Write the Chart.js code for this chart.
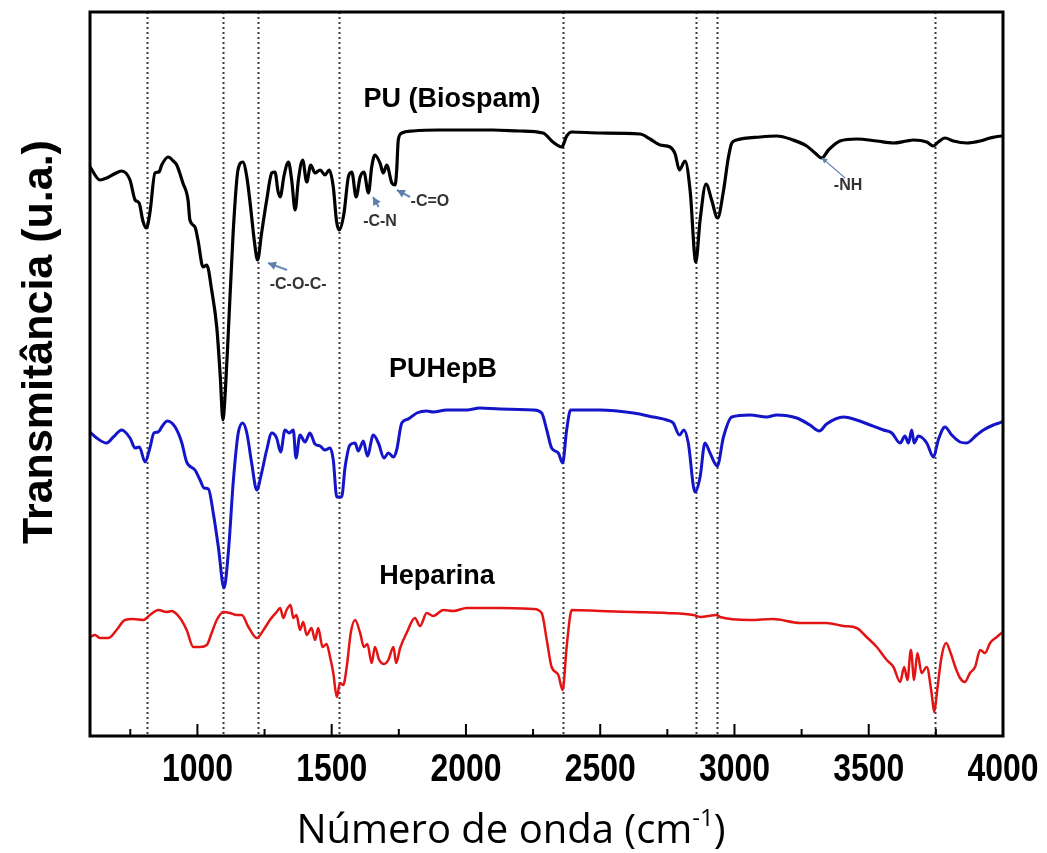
<!DOCTYPE html>
<html>
<head>
<meta charset="utf-8">
<script src="https://cdn.jsdelivr.net/npm/chart.js@4.4.1/dist/chart.umd.min.js"></script>
<style>
  body { margin: 0; background: #fff; }
  #wrap { width: 1047px; height: 853px; }
</style>
</head>
<body>
<div id="wrap"><canvas id="ftirChart" width="1047" height="853"></canvas></div>
<script>
// Spectres FTIR : nombre d'onde (cm-1) et transmitance (u.a., décalée)
const puX = [600,637,662,690,718,749,768,783,797,810,823,842,857,867,891,910,923,946,965,972,991,1002,1021,1035,1053,1072,1085,1095,1105,1115,1133,1151,1169,1184,1198,1212,1224,1239,1258,1277,1289,1300,1308,1323,1339,1351,1364,1376,1392,1407,1422,1438,1457,1475,1491,1506,1518,1528,1546,1562,1575,1591,1606,1620,1637,1649,1661,1680,1692,1705,1724,1736,1742,1748,1761,1803,1900,2000,2100,2200,2287,2324,2357,2375,2394,2500,2648,2686,2723,2760,2779,2795,2816,2835,2856,2872,2894,2915,2937,2959,2977,2990,3008,3095,3157,3218,3269,3300,3325,3350,3393,3455,3530,3592,3641,3666,3716,3741,3759,3784,3815,3865,3915,3952,3995,4000];
const puY = [56.9,55.6,55.8,56.2,56.5,55.6,53.6,53.3,51.5,50.8,52.3,56.3,56.4,57.1,57.9,57.5,57.1,55.3,53.6,51.6,50.9,49.6,46.9,47.1,44.6,40.9,36.0,31.6,35.0,40.3,50.3,56.6,57.4,55.9,52.9,49.5,47.6,50.3,53.6,56.3,56.4,54.5,53.9,56.1,57.4,55.6,52.6,55.6,57.6,55.4,57.1,56.3,56.6,56.1,56.6,54.9,51.5,50.6,52.3,55.9,56.4,53.9,55.9,56.4,54.3,56.9,58.1,57.3,56.3,57.1,55.3,55.1,56.5,59.6,60.3,60.5,60.6,60.6,60.6,60.5,60.3,59.4,58.9,60.0,60.4,60.3,60.2,59.7,59.1,58.9,58.2,56.6,57.5,54.5,47.4,51.6,55.2,53.6,51.8,54.5,57.8,59.3,59.6,59.9,60.0,59.6,59.0,58.3,57.8,58.6,59.5,59.7,59.5,59.3,59.5,59.6,59.4,59.0,59.4,59.8,59.5,59.3,59.5,59.8,60.0,60.0];

const hepbX = [600,625,662,687,718,749,768,784,805,823,838,854,867,888,917,941,960,991,1010,1025,1041,1059,1078,1099,1115,1134,1152,1169,1184,1202,1221,1239,1258,1277,1295,1310,1326,1342,1357,1367,1382,1401,1419,1438,1457,1475,1494,1506,1519,1537,1550,1568,1587,1599,1618,1633,1655,1674,1695,1711,1730,1742,1761,1785,1817,1854,1878,1928,2003,2052,2127,2251,2282,2301,2319,2344,2360,2375,2390,2499,2624,2698,2748,2772,2795,2812,2828,2853,2872,2890,2909,2936,2959,2990,3058,3120,3157,3232,3281,3316,3343,3406,3455,3505,3555,3586,3617,3635,3648,3660,3669,3685,3716,3741,3759,3784,3809,3840,3865,3902,3927,3964,3995,4000];
const hepbY = [30.4,29.8,29.3,29.9,30.6,29.8,28.8,28.9,27.4,28.8,30.3,30.4,30.9,31.5,30.9,29.4,27.4,26.6,25.6,24.8,24.7,22.3,18.9,14.8,18.3,25.6,30.3,31.3,30.3,27.3,24.6,26.3,28.6,30.3,29.8,28.4,30.6,30.3,30.6,27.8,30.1,29.4,30.3,29.2,29.0,28.6,28.8,27.6,23.9,23.9,26.9,29.1,29.3,28.5,29.5,28.0,30.1,29.3,27.8,28.3,27.9,28.6,31.3,31.7,32.3,32.5,32.4,32.6,32.6,32.8,32.7,32.6,32.3,30.6,28.8,28.3,27.3,30.6,32.6,32.6,32.3,31.9,31.6,31.3,30.1,30.6,29.3,24.4,25.9,29.3,28.3,27.0,29.9,31.9,32.1,31.9,32.1,31.8,31.1,30.5,31.2,31.9,31.6,31.1,30.6,30.3,29.3,30.0,29.3,30.6,29.3,30.0,29.3,27.9,29.6,30.9,30.1,29.4,29.3,30.1,30.6,31.1,31.4,31.5];

const hepX = [600,619,637,668,699,730,761,799,823,854,886,904,935,960,985,1010,1035,1053,1072,1097,1121,1146,1165,1190,1221,1246,1270,1295,1308,1320,1332,1347,1357,1369,1382,1394,1407,1425,1438,1450,1466,1481,1494,1506,1519,1531,1543,1556,1571,1587,1606,1620,1633,1649,1661,1677,1695,1711,1730,1740,1755,1779,1810,1829,1854,1878,1916,1953,2003,2127,2251,2282,2301,2319,2344,2360,2375,2388,2394,2499,2624,2748,2847,2872,2934,2946,3058,3145,3244,3343,3406,3455,3492,3530,3567,3592,3617,3632,3644,3657,3669,3681,3697,3716,3734,3744,3755,3771,3788,3805,3821,3840,3858,3877,3896,3915,3933,3952,3977,3995,4000];
const hepY = [9.9,10.1,9.8,9.8,10.6,11.6,11.7,11.6,12.1,12.6,12.4,12.5,11.8,10.6,8.9,8.9,9.1,10.3,11.6,12.4,12.3,12.1,12.1,10.9,9.8,10.6,11.6,12.4,12.8,11.8,12.6,13.1,11.8,12.1,10.6,11.4,10.1,10.8,9.6,10.8,8.9,9.2,7.9,6.3,3.9,5.3,5.1,6.9,10.3,11.6,10.3,8.9,9.2,7.3,8.9,7.6,7.2,7.6,8.9,7.3,8.8,10.3,11.8,11.0,12.3,12.0,12.6,12.5,12.8,12.8,12.7,12.3,9.6,6.9,6.1,4.6,8.9,12.0,12.6,12.5,12.4,12.3,12.1,11.9,12.1,11.9,11.6,11.7,11.3,11.3,11.0,10.8,9.9,8.9,7.6,6.9,5.4,6.9,5.6,8.6,5.6,8.3,6.3,6.9,4.3,2.4,4.6,7.9,9.3,8.3,7.0,5.8,5.4,6.3,6.9,8.6,8.3,9.3,9.9,10.3,10.4];

// lignes pointillées des bandes caractéristiques
const bandLines = [812, 1097, 1224, 1527, 2360, 2855, 2935, 3747];
const majorTicks = [1000, 1500, 2000, 2500, 3000, 3500, 4000];
const minorTicks = [750, 1250, 1750, 2250, 2750, 3250, 3750];

// étiquettes des courbes et annotations (en coordonnées des données)
const seriesLabels = [
    { text: 'PU (Biospam)', x: 1948, y: 63.6 },
    { text: 'PUHepB', x: 1915, y: 36.6 },
    { text: 'Heparina', x: 1892, y: 15.9 },
];
const groupLabels = [
    { text: '-C-O-C-', x: 1375, y: 45.1, from: [1334, 46.6], to: [1263, 47.3] },
    { text: '-C-N', x: 1680, y: 51.4, from: [1675, 52.9], to: [1654, 53.9] },
    { text: '-C=O', x: 1866, y: 53.4, from: [1792, 53.9], to: [1743, 54.6] },
    { text: '-NH', x: 3423, y: 55.0, from: [3412, 55.8], to: [3326, 57.8], noHead: true },
];

const toPoints = (xs, ys) => xs.map((x, i) => ({ x: x, y: ys[i] }));

const ftirDecor = {
    id: 'ftirDecor',
    beforeDatasetsDraw(chart) {
        const { ctx, chartArea: a, scales: { x } } = chart;
        ctx.save();
        ctx.strokeStyle = '#3a3a3a';
        ctx.lineWidth = 2;
        ctx.setLineDash([2, 3]);
        bandLines.forEach(v => {
            const px = Math.round(x.getPixelForValue(v)) + 0.5;
            ctx.beginPath();
            ctx.moveTo(px, a.top);
            ctx.lineTo(px, a.bottom);
            ctx.stroke();
        });
        ctx.restore();
    },
    afterDatasetsDraw(chart) {
        const { ctx, chartArea: a, scales: { x, y } } = chart;
        ctx.save();

        // cadre
        ctx.strokeStyle = '#000';
        ctx.lineWidth = 3;
        ctx.strokeRect(a.left, a.top, a.right - a.left, a.bottom - a.top);

        // graduations vers l'intérieur
        ctx.lineWidth = 2;
        majorTicks.forEach(v => {
            const px = x.getPixelForValue(v);
            ctx.beginPath(); ctx.moveTo(px, a.bottom); ctx.lineTo(px, a.bottom - 12); ctx.stroke();
        });
        minorTicks.forEach(v => {
            const px = x.getPixelForValue(v);
            ctx.beginPath(); ctx.moveTo(px, a.bottom); ctx.lineTo(px, a.bottom - 7); ctx.stroke();
        });

        // étiquettes de l'axe x (police resserrée)
        ctx.fillStyle = '#000';
        ctx.font = 'bold 38px "Liberation Sans", Arial, sans-serif';
        ctx.textAlign = 'center';
        ctx.textBaseline = 'middle';
        majorTicks.forEach(v => {
            ctx.save();
            ctx.translate(x.getPixelForValue(v), a.bottom + 35);
            ctx.scale(0.84, 1);
            ctx.fillText(String(v), 0, 0);
            ctx.restore();
        });

        // titre de l'axe x avec exposant
        const big = '40px "Open Sans", sans-serif';
        const small = '24px "Open Sans", sans-serif';
        ctx.textAlign = 'left';
        ctx.textBaseline = 'alphabetic';
        const main = 'Número de onda (cm';
        const sup = '-1';
        const close = ')';
        ctx.font = big;
        const wMain = ctx.measureText(main).width;
        const wClose = ctx.measureText(close).width;
        ctx.font = small;
        const wSup = ctx.measureText(sup).width;
        const xStart = 511 - (wMain + wSup + wClose) / 2;
        const base = a.bottom + 107;
        ctx.font = big;
        ctx.fillText(main, xStart, base);
        ctx.font = small;
        ctx.fillText(sup, xStart + wMain, base - 17);
        ctx.font = big;
        ctx.fillText(close, xStart + wMain + wSup, base);

        // titre de l'axe y
        ctx.save();
        ctx.translate(40, 342);
        ctx.rotate(-Math.PI / 2);
        ctx.font = 'bold 43px "Liberation Sans", Arial, sans-serif';
        ctx.textAlign = 'center';
        ctx.textBaseline = 'middle';
        ctx.fillText('Transmitância (u.a.)', 0, 0);
        ctx.restore();

        // noms des échantillons
        ctx.font = 'bold 27px "Liberation Sans", Arial, sans-serif';
        ctx.textAlign = 'center';
        ctx.textBaseline = 'middle';
        seriesLabels.forEach(l => ctx.fillText(l.text, x.getPixelForValue(l.x), y.getPixelForValue(l.y)));

        // groupes fonctionnels + flèches
        groupLabels.forEach(g => {
            const x1 = x.getPixelForValue(g.from[0]), y1 = y.getPixelForValue(g.from[1]);
            const x2 = x.getPixelForValue(g.to[0]), y2 = y.getPixelForValue(g.to[1]);
            ctx.strokeStyle = '#6a8db5';
            ctx.fillStyle = '#5b7fa8';
            ctx.lineWidth = g.noHead ? 1.2 : 2;
            ctx.beginPath(); ctx.moveTo(x1, y1); ctx.lineTo(x2, y2); ctx.stroke();
            const ang = Math.atan2(y2 - y1, x2 - x1);
            const hl = g.noHead ? 6 : 9;
            ctx.beginPath();
            ctx.moveTo(x2, y2);
            ctx.lineTo(x2 - hl * Math.cos(ang - 0.5), y2 - hl * Math.sin(ang - 0.5));
            ctx.lineTo(x2 - hl * Math.cos(ang + 0.5), y2 - hl * Math.sin(ang + 0.5));
            ctx.closePath();
            ctx.fill();
            ctx.fillStyle = '#333';
            ctx.font = 'bold 16px "Liberation Sans", Arial, sans-serif';
            ctx.fillText(g.text, x.getPixelForValue(g.x), y.getPixelForValue(g.y));
        });

        ctx.restore();
    }
};

const ftirChart = new Chart(document.querySelector('#ftirChart'), {
    type: 'line',
    data: {
        datasets: [
            {
                label: 'PU (Biospam)',
                data: toPoints(puX, puY),
                borderColor: '#000000',
                borderWidth: 3.2,
            },
            {
                label: 'PUHepB',
                data: toPoints(hepbX, hepbY),
                borderColor: '#1414c8',
                borderWidth: 3,
            },
            {
                label: 'Heparina',
                data: toPoints(hepX, hepY),
                borderColor: '#e31414',
                borderWidth: 2.5,
            },
        ],
    },
    options: {
        responsive: false,
        animation: false,
        layout: { padding: { left: 90, right: 44, top: 12, bottom: 117 } },
        elements: {
            point: { radius: 0 },
            line: { cubicInterpolationMode: 'monotone', fill: false },
        },
        scales: {
            x: { type: 'linear', min: 600, max: 4000, display: false },
            y: { type: 'linear', min: 0, max: 72.4, display: false },
        },
        plugins: {
            legend: { display: false },
            tooltip: { enabled: false },
        },
    },
    plugins: [ftirDecor],
});
</script>
</body>
</html>
